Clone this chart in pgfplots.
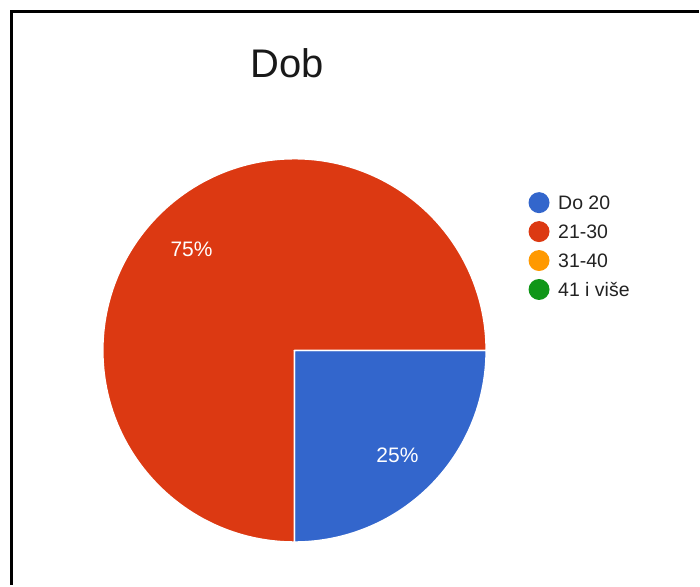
\documentclass[border=0pt]{standalone}
\usepackage{pgfplots}
\usepackage{pgfplotstable}
\usepackage{fontspec}
\setmainfont{Liberation Sans}
\pgfplotsset{compat=1.18}
\definecolor{slice0}{HTML}{3366CC}
\definecolor{slice1}{HTML}{DC3912}
\definecolor{slice2}{HTML}{FF9900}
\definecolor{slice3}{HTML}{109618}
\definecolor{legtext}{HTML}{222222}

\pgfplotstableread[col sep=comma]{
label,value
Do 20,25
21-30,75
31-40,0
41 i više,0
}\piedata

\def\cum{0}
\newcommand\computeslice[1]{%
  \pgfplotstablegetelem{#1}{value}\of\piedata
  \pgfmathsetmacro\thisval{\pgfplotsretval}%
  \pgfmathtruncatemacro\thisint{\pgfplotsretval}%
  \pgfmathsetmacro\startang{-\cum*3.6}%
  \pgfmathsetmacro\newcum{\cum+\thisval}%
  \pgfmathsetmacro\endang{-\newcum*3.6}%
  \pgfmathsetmacro\midang{(\startang+\endang)/2}%
  \expandafter\xdef\csname sa#1\endcsname{\startang}%
  \expandafter\xdef\csname se#1\endcsname{\endang}%
  \expandafter\xdef\csname sm#1\endcsname{\midang}%
  \expandafter\xdef\csname sv#1\endcsname{\thisint}%
  \pgfplotstablegetelem{#1}{label}\of\piedata
  \expandafter\xdef\csname lab#1\endcsname{\pgfplotsretval}%
  \xdef\cum{\newcum}%
}
\computeslice{0}
\computeslice{1}
\computeslice{2}
\computeslice{3}

\def\cx{295}
\def\cy{235}
\def\rad{192}

\begin{document}
\begin{tikzpicture}
\begin{axis}[
  scale only axis, width=700pt, height=586pt,
  xmin=0, xmax=700, ymin=0, ymax=586,
  hide axis, clip=false,
]
\path (axis cs:0,0) rectangle (axis cs:700,586);
% frame (left and top)
\draw[black, line width=2.5pt] (axis cs:11.5,0) -- (axis cs:11.5,574.5) -- (axis cs:700,574.5);
% title
\node[anchor=base, font=\fontsize{40}{48}\selectfont, text=black!90, inner sep=0pt] at (axis cs:288,508) {Dob};
% slices
\pgfplotsinvokeforeach{0,1,2,3}{
  \fill[fill=slice#1, draw=white, line width=1.5pt, line join=round]
    (axis cs:\cx,\cy) -- ++(\csname sa#1\endcsname:\rad pt)
    arc[start angle=\csname sa#1\endcsname, end angle=\csname se#1\endcsname, radius=\rad pt] -- cycle;
}
% percentage labels
\pgfplotsinvokeforeach{0,1,2,3}{
  \ifnum\csname sv#1\endcsname>0
  \path (axis cs:\cx,\cy) ++(\csname sm#1\endcsname:0.76*\rad pt)
    node[text=white, font=\fontsize{21}{25}\selectfont, inner sep=0pt, yshift=-2pt] {\csname sv#1\endcsname\%};
  \fi
}
% legend
\pgfplotsinvokeforeach{0,1,2,3}{
  \fill[slice#1] (axis cs:540,{383-29*#1}) circle[radius=10.5pt];
  \node[anchor=base west, text=legtext, font=\fontsize{19.5}{23}\selectfont, inner sep=0pt]
    at (axis cs:559,{376-29*#1}) {\csname lab#1\endcsname};
}
\end{axis}
\end{tikzpicture}
\end{document}
